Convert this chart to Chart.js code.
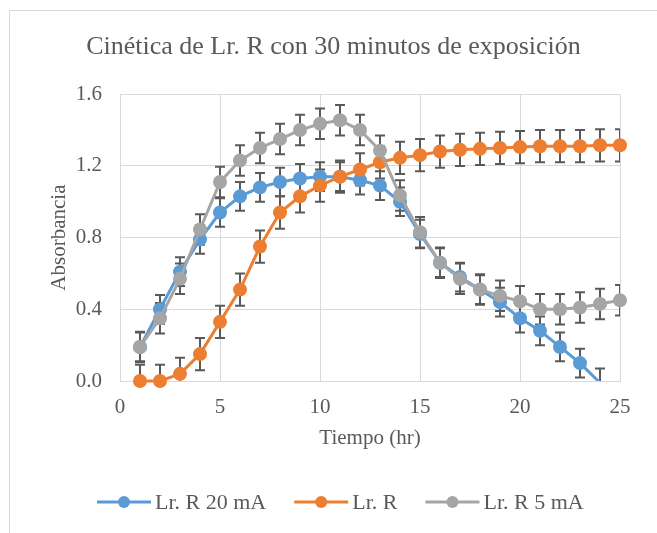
<!DOCTYPE html>
<html>
<head>
<meta charset="utf-8">
<script src="https://cdn.jsdelivr.net/npm/chart.js@4/dist/chart.umd.min.js"></script>
<style>
  body { margin: 0; background: #fff; }
  #wrap { position: relative; width: 657px; height: 533px; overflow: hidden; }
  #frame { position: absolute; left: 9px; top: 10px; width: 700px; height: 600px; border-left: 1px solid #d9d9d9; border-top: 1px solid #d9d9d9; }
  #kinetics { position: absolute; left: 0; top: 0; }
</style>
</head>
<body>
<div id="wrap">
  <div id="frame"></div>
  <canvas id="kinetics" width="657" height="533"></canvas>
</div>
<script>
// Tiempo (hr)
const hours = [1, 2, 3, 4, 5, 6, 7, 8, 9, 10, 11, 12, 13, 14, 15, 16, 17, 18, 19, 20, 21, 22, 23, 24, 25];

// Absorbancia por serie
const lr20mA = [0.19, 0.40, 0.61, 0.79, 0.94, 1.03, 1.08, 1.11, 1.13, 1.14, 1.14, 1.12, 1.09, 1.00, 0.82, 0.66, 0.58, 0.51, 0.44, 0.35, 0.28, 0.19, 0.10, -0.01];
const lrR    = [0.00, 0.00, 0.04, 0.15, 0.33, 0.51, 0.75, 0.94, 1.03, 1.09, 1.14, 1.18, 1.22, 1.245, 1.26, 1.28, 1.29, 1.295, 1.30, 1.305, 1.31, 1.31, 1.31, 1.315, 1.315];
const lr5mA  = [0.19, 0.35, 0.57, 0.845, 1.11, 1.23, 1.30, 1.35, 1.40, 1.435, 1.455, 1.40, 1.285, 1.035, 0.83, 0.66, 0.57, 0.51, 0.475, 0.445, 0.40, 0.40, 0.41, 0.43, 0.45];

// error bars (+/-)
const err20mA = 0.08;
const errR = 0.09;
const err5mA = 0.085;

const seriesNames = ['Lr. R 20 mA', 'Lr. R', 'Lr. R 5 mA'];
const yTicks = [0, 0.4, 0.8, 1.2, 1.6];
const xTicks = [0, 5, 10, 15, 20, 25];

const TEXT = '#595959';
const GRID = '#d9d9d9';
const FONT = 'Liberation Serif';

function toPoints(vals) {
    return vals.map(function(v, i) { return { x: hours[i], y: v }; });
}

function makeSet(name, vals, color, err, order, clip) {
    return {
        label: name,
        data: toPoints(vals),
        errors: err,
        borderColor: color,
        backgroundColor: color,
        borderWidth: 3,
        pointRadius: function(ctx) {
            const p = ctx.raw;
            return p && p.y < 0 ? 0 : 7;
        },
        pointBorderWidth: 0,
        pointBackgroundColor: color,
        tension: 0,
        order: order,
        clip: clip
    };
}

// error bars drawn underneath the lines, through the chart scales
const errorBars = {
    id: 'errorBars',
    beforeDatasetsDraw: function(chart) {
        const ctx = chart.ctx;
        const xs = chart.scales.x, ys = chart.scales.y;
        const area = chart.chartArea;
        ctx.save();
        ctx.beginPath();
        ctx.rect(area.left, area.top, area.right - area.left, area.bottom - area.top);
        ctx.clip();
        ctx.strokeStyle = TEXT;
        ctx.lineWidth = 2;
        chart.data.datasets.forEach(function(ds) {
            ds.data.forEach(function(p) {
                const px = xs.getPixelForValue(p.x);
                const top = ys.getPixelForValue(p.y + ds.errors);
                const bot = ys.getPixelForValue(p.y - ds.errors);
                ctx.beginPath();
                ctx.moveTo(px, top); ctx.lineTo(px, bot);
                ctx.moveTo(px - 5, top); ctx.lineTo(px + 5, top);
                ctx.moveTo(px - 5, bot); ctx.lineTo(px + 5, bot);
                ctx.stroke();
            });
        });
        ctx.restore();
    }
};

// Excel-style legend: line with a marker, then the name
const lineLegend = {
    id: 'lineLegend',
    afterDraw: function(chart) {
        const ctx = chart.ctx;
        const y = 502;
        let x = 97;
        ctx.save();
        ctx.font = '22px "' + FONT + '"';
        ctx.textBaseline = 'middle';
        ctx.textAlign = 'left';
        chart.data.datasets.forEach(function(ds) {
            ctx.strokeStyle = ds.borderColor;
            ctx.lineWidth = 3;
            ctx.beginPath();
            ctx.moveTo(x, y); ctx.lineTo(x + 54, y);
            ctx.stroke();
            ctx.fillStyle = ds.borderColor;
            ctx.beginPath();
            ctx.arc(x + 27, y, 6, 0, Math.PI * 2);
            ctx.fill();
            ctx.fillStyle = TEXT;
            ctx.fillText(ds.label, x + 58, y + 1);
            x += 58 + ctx.measureText(ds.label).width + 28;
        });
        ctx.restore();
    }
};

Chart.defaults.font.family = FONT;
Chart.defaults.color = TEXT;

const ctx = document.getElementById('kinetics').getContext('2d');
new Chart(ctx, {
    type: 'line',
    data: {
        datasets: [
            makeSet(seriesNames[0], lr20mA, '#5b9bd5', err20mA, 2, 0),
            makeSet(seriesNames[1], lrR, '#ed7d31', errR, 1, 10),
            makeSet(seriesNames[2], lr5mA, '#a5a5a5', err5mA, 0, 10)
        ]
    },
    options: {
        responsive: false,
        animation: false,
        layout: { padding: { left: 47, right: 37, top: 0, bottom: 82 } },
        plugins: {
            legend: { display: false },
            tooltip: { enabled: false },
            title: {
                display: true,
                text: 'Cinética de Lr. R con 30 minutos de exposición',
                color: TEXT,
                font: { size: 26, weight: 'normal', family: FONT },
                padding: { top: 32, bottom: 31 }
            }
        },
        scales: {
            x: {
                type: 'linear',
                min: 0,
                max: 25,
                afterBuildTicks: function(axis) {
                    axis.ticks = xTicks.map(function(v) { return { value: v }; });
                },
                afterFit: function(axis) { axis.height = 70; },
                grid: { color: GRID, drawTicks: false },
                border: { color: GRID },
                ticks: { padding: 14, font: { size: 21 }, color: TEXT, maxRotation: 0 },
                title: {
                    display: true,
                    text: 'Tiempo (hr)',
                    color: TEXT,
                    font: { size: 21 },
                    padding: 0
                }
            },
            y: {
                min: 0,
                max: 1.6,
                afterBuildTicks: function(axis) {
                    axis.ticks = yTicks.map(function(v) { return { value: v }; });
                },
                afterFit: function(axis) { axis.width = 73; },
                grid: { color: GRID, drawTicks: false },
                border: { color: GRID },
                ticks: {
                    padding: 18,
                    font: { size: 21 },
                    color: TEXT,
                    callback: function(v) { return Number(v).toFixed(1); }
                },
                title: {
                    display: true,
                    text: 'Absorbancia',
                    color: TEXT,
                    font: { size: 21 },
                    padding: 0
                }
            }
        }
    },
    plugins: [errorBars, lineLegend]
});
</script>
</body>
</html>
